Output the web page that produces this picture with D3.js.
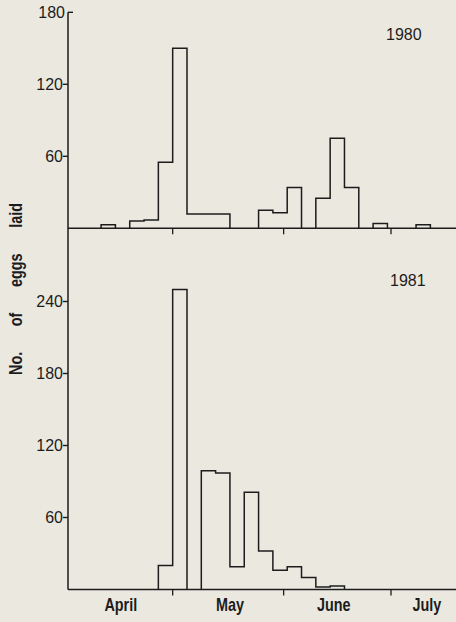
<!DOCTYPE html>
<html>
    <head>
        <script src="https://d3js.org/d3.v7.min.js"></script>
        <style>
            body { margin:0; background:#ebe8e0; }
            svg { display:block; background:#ebe8e0; }
        </style>
    </head>
    <body>
        <svg width="456" height="622" id="eggChart"></svg>
        <script>
            // bins of 4 days, start day counted from 1 April (day 0)
            const binStart=[10,14,18,22,26,30,34,38,42,46,50,54,58,62,66,70,74,78,82,86,90,94,98,102];
            const eggs1980=[3,0,6,7,55,150,12,12,12,0,0,15,13,34,0,25,75,34,0,4,0,0,3,0];
            const eggs1981=[0,0,0,0,20,250,0,99,97,19,81,32,16,19,10,2,3,0,0,0,0,0,0,0];
            const binWidth=4;

            const monthTicks=[30,61,91];            // May 1, June 1, July 1
            const monthNames=["April","May","June","July"];
            const monthLabelDay=[15.5,46,75,101];

            const ticks1980=[60,120,180];
            const ticks1981=[60,120,180,240];

            let svg=d3.select("#eggChart");
            const ink="#1c1c1c";
            const left=68, right=456;

            let xScale=d3.scaleLinear().domain([0,91]).range([65.3,391]);
            let yTop=d3.scaleLinear().domain([0,180]).range([228.3,12.3]);
            let yBot=d3.scaleLinear().domain([0,300]).range([589.5,229.5]);

            // step outline over each run of non-zero bins
            function runs(values){
                let out=[], cur=null;
                values.forEach((v,i)=>{
                    if(v>0){
                        if(!cur){cur=[]; out.push(cur);}
                        cur.push(i);
                    } else cur=null;
                });
                return out;
            }
            const line=d3.line();

            function drawPanel(values, yScale, tickVals, year, yearPos, topTick){
                let g=svg.append("g");

                // baseline
                g.append("line")
                    .attr("x1",left).attr("x2",right)
                    .attr("y1",yScale(0)).attr("y2",yScale(0))
                    .attr("stroke",ink).attr("stroke-width",1.5);

                // month ticks, pointing down
                g.selectAll("line.mtick").data(monthTicks).join("line")
                    .attr("class","mtick")
                    .attr("x1",d=>xScale(d)).attr("x2",d=>xScale(d))
                    .attr("y1",yScale(0)).attr("y2",yScale(0)+6)
                    .attr("stroke",ink).attr("stroke-width",1.3);

                // y ticks + labels
                g.selectAll("line.ytick").data(tickVals).join("line")
                    .attr("class","ytick")
                    .attr("x1",d=>d===topTick?left:left-5)
                    .attr("x2",d=>d===topTick?left+5:left)
                    .attr("y1",d=>yScale(d)).attr("y2",d=>yScale(d))
                    .attr("stroke",ink).attr("stroke-width",1.4);
                g.selectAll("text.ylab").data(tickVals).join("text")
                    .attr("class","ylab")
                    .attr("x",d=>d===topTick?left-3:left-5)
                    .attr("y",d=>yScale(d))
                    .attr("dy","0.36em")
                    .attr("text-anchor","end")
                    .attr("font-family","Liberation Sans, Arial, sans-serif")
                    .attr("font-size",16)
                    .attr("fill",ink)
                    .text(d=>d);

                // histogram outline
                g.selectAll("path.hist").data(runs(values)).join("path")
                    .attr("class","hist")
                    .attr("fill","none")
                    .attr("stroke",ink)
                    .attr("stroke-width",1.5)
                    .attr("stroke-linejoin","miter")
                    .attr("d",idx=>{
                        let pts=[[xScale(binStart[idx[0]]),yScale(0)]];
                        idx.forEach(i=>{
                            pts.push([xScale(binStart[i]),yScale(values[i])]);
                            pts.push([xScale(binStart[i]+binWidth),yScale(values[i])]);
                        });
                        pts.push([xScale(binStart[idx[idx.length-1]]+binWidth),yScale(0)]);
                        return line(pts);
                    });

                g.append("text")
                    .attr("x",yearPos[0]).attr("y",yearPos[1])
                    .attr("font-family","Liberation Sans, Arial, sans-serif")
                    .attr("font-size",16)
                    .attr("fill",ink)
                    .text(year);
            }

            drawPanel(eggs1980, yTop, ticks1980, "1980", [386,40], 180);
            drawPanel(eggs1981, yBot, ticks1981, "1981", [390,286], null);

            // y axis, one line through both panels
            svg.append("line")
                .attr("x1",left).attr("x2",left)
                .attr("y1",yTop(180)).attr("y2",yBot(0))
                .attr("stroke",ink).attr("stroke-width",1.5);

            // month labels
            svg.selectAll("text.month").data(monthNames).join("text")
                .attr("class","month")
                .attr("transform",(d,i)=>`translate(${xScale(monthLabelDay[i])},611) scale(0.8,1)`)
                .attr("text-anchor","middle")
                .attr("font-family","Liberation Sans, Arial, sans-serif")
                .attr("font-weight","bold")
                .attr("font-size",18)
                .attr("fill",ink)
                .text(d=>d);

            // axis title
            svg.append("text")
                .attr("transform","translate(22,289) rotate(-90) scale(0.8,1)")
                .attr("text-anchor","middle")
                .attr("font-family","Liberation Sans, Arial, sans-serif")
                .attr("font-weight","bold")
                .attr("font-size",18)
                .attr("word-spacing","27px")
                .attr("fill",ink)
                .text("No. of eggs laid");
        </script>
    </body>
</html>
